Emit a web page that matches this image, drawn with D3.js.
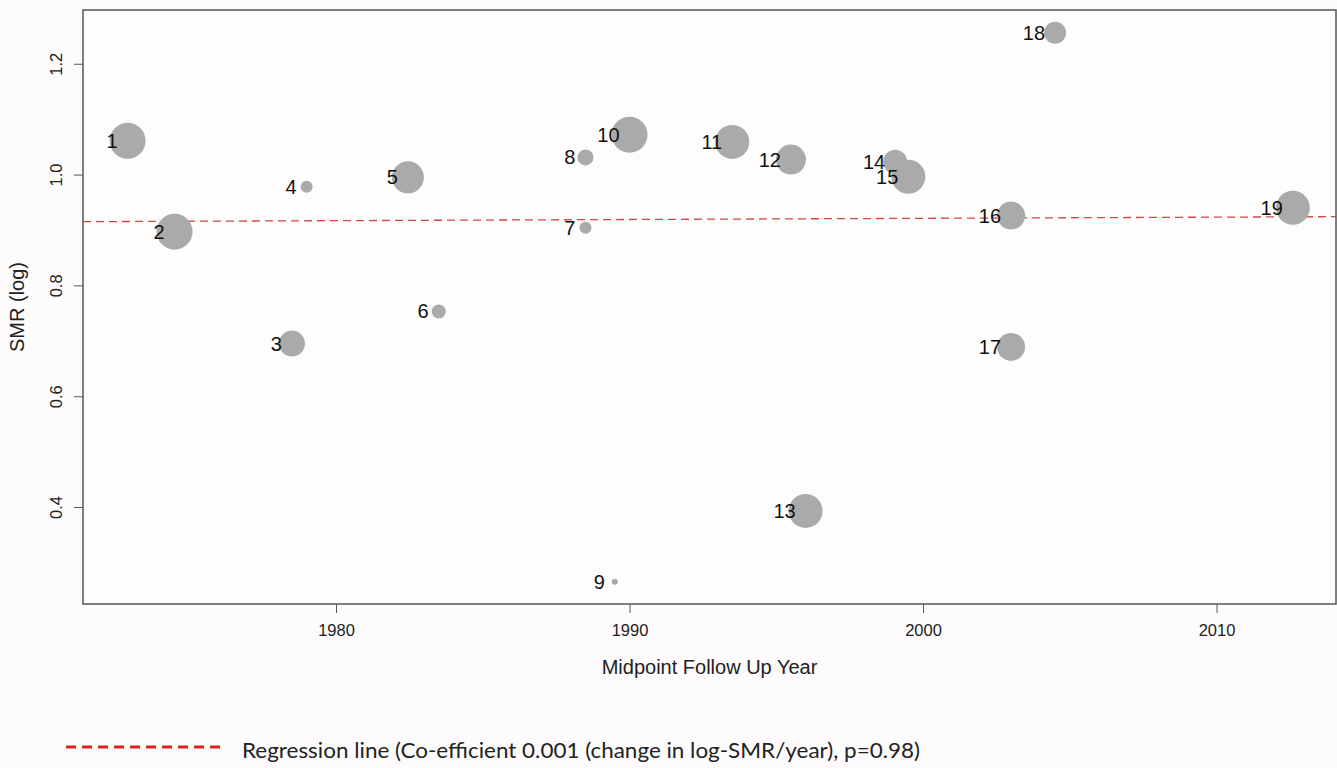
<!DOCTYPE html>
<html>
<head>
<meta charset="utf-8">
<script src="https://cdn.jsdelivr.net/npm/d3@7"></script>
<style>
	html, body { margin: 0; padding: 0; background: #fdfbfb; }
	#outer { width: 1337px; height: 768px; }
</style>
</head>
<body>
<div id="outer"></div>
<script>
////////// Data //////////
const studyIds = [1, 2, 3, 4, 5, 6, 7, 8, 9, 10, 11, 12, 13, 14, 15, 16, 17, 18, 19];
const midpointYears = [1972.9, 1974.5, 1978.5, 1979.0, 1982.45, 1983.5, 1988.5, 1988.5, 1989.5, 1990.0, 1993.5, 1995.5, 1996.0, 1999.05, 1999.5, 2003.0, 2003.0, 2004.5, 2012.6];
const smrValues = [1.061, 0.897, 0.695, 0.978, 0.995, 0.753, 0.904, 1.031, 0.265, 1.072, 1.059, 1.027, 0.393, 1.023, 0.996, 0.926, 0.689, 1.256, 0.940];
// relative study weight (drives bubble size)
const studyWeights = [18, 18, 13, 6, 16, 7, 6, 8, 3, 18, 17, 15, 17, 12, 17, 14, 14, 11, 17];
const xTicks = [1980, 1990, 2000, 2010];
const yTicks = [0.4, 0.6, 0.8, 1.0, 1.2];
const regressionYears = [1971.38, 2014.07];
const regressionFit = [0.915, 0.924];
const legendLabel = 'Regression line (Co-efficient 0.001 (change in log-SMR/year), p=0.98)';

function drawChart () {

	////////// Layout //////////
	const width = 1337, height = 768;
	const plot = {left: 83, top: 10, right: 1336, bottom: 604};
	const axisColor = '#555';
	const bubbleColor = '#aaaaaa';
	const lineColor = '#d4463e';
	const baseFont = '"Liberation Sans", Arial, sans-serif';
	const tickFont = `16.5px ${baseFont}`;
	const titleFont = `20px ${baseFont}`;

	const svg = d3.select('#outer').append('svg')
		.attr('width', width)
		.attr('height', height);

	const x = d3.scaleLinear().domain([1971.38, 2014.07]).range([plot.left, plot.right]);
	const y = d3.scaleLinear().domain([0.225, 1.297]).range([plot.bottom, plot.top]);
	const r = d3.scaleLinear().domain([0, 18]).range([0, 18]);

	// ********************* AXES ********************* //
	svg.append('rect')
		.attr('x', plot.left).attr('y', plot.top)
		.attr('width', plot.right - plot.left).attr('height', plot.bottom - plot.top)
		.attr('fill', '#fdfdfd')
		.attr('stroke', axisColor)
		.attr('stroke-width', 1.5);

	const xAxis = svg.append('g')
		.attr('transform', `translate(0, ${plot.bottom})`)
		.call(d3.axisBottom(x).tickValues(xTicks).tickFormat(d3.format('d')).tickSize(9).tickPadding(11));
	const yAxis = svg.append('g')
		.attr('transform', `translate(${plot.left}, 0)`)
		.call(d3.axisLeft(y).tickValues(yTicks).tickFormat(d3.format('.1f')).tickSize(9));
	[xAxis, yAxis].forEach(ax => {
		ax.select('.domain').remove();
		ax.selectAll('line').attr('stroke', axisColor);
		ax.selectAll('text').style('font', tickFont).attr('fill', '#222');
	});
	yAxis.selectAll('.tick text')
		.attr('x', null)
		.attr('text-anchor', 'middle')
		.attr('transform', 'translate(-27, 0) rotate(-90)')
		.attr('dy', '0.35em');

	svg.append('text')
		.text('Midpoint Follow Up Year')
		.attr('x', (plot.left + plot.right) / 2)
		.attr('y', 674)
		.attr('text-anchor', 'middle')
		.style('font', titleFont)
		.attr('fill', '#222');
	svg.append('text')
		.text('SMR (log)')
		.attr('transform', `translate(24, ${(plot.top + plot.bottom) / 2}) rotate(-90)`)
		.attr('text-anchor', 'middle')
		.style('font', titleFont)
		.attr('fill', '#222');

	// ********************* REGRESSION ********************* //
	svg.append('line')
		.attr('x1', x(regressionYears[0])).attr('y1', y(regressionFit[0]))
		.attr('x2', x(regressionYears[1])).attr('y2', y(regressionFit[1]))
		.attr('stroke', lineColor)
		.attr('stroke-width', 1.3)
		.attr('stroke-dasharray', '8,5');

	// ********************* BUBBLES ********************* //
	const studies = studyIds.map((id, i) => ({id, year: midpointYears[i], smr: smrValues[i], w: studyWeights[i]}));
	const bubbles = svg.append('g').attr('class', 'bubbles');
	bubbles.selectAll('circle')
		.data(studies)
		.join('circle')
		.attr('cx', d => x(d.year))
		.attr('cy', d => y(d.smr))
		.attr('r', d => r(d.w))
		.attr('fill', bubbleColor);
	bubbles.selectAll('text')
		.data(studies)
		.join('text')
		.text(d => d.id)
		.attr('x', d => x(d.year) - 10)
		.attr('y', d => y(d.smr))
		.attr('dy', '0.35em')
		.attr('text-anchor', 'end')
		.style('font', `20px ${baseFont}`)
		.attr('fill', '#111');

	// ********************* LEGEND ********************* //
	svg.append('line')
		.attr('x1', 66).attr('x2', 220)
		.attr('y1', 747).attr('y2', 747)
		.attr('stroke', '#e0201b')
		.attr('stroke-width', 3)
		.attr('stroke-dasharray', '10,6');
	svg.append('text')
		.text(legendLabel)
		.attr('x', 242)
		.attr('y', 758)
		.attr('textLength', 678)
		.attr('lengthAdjust', 'spacingAndGlyphs')
		.style('font', '21px Lato, "Open Sans", sans-serif')
		.attr('fill', '#222');
}

drawChart();
</script>
</body>
</html>
